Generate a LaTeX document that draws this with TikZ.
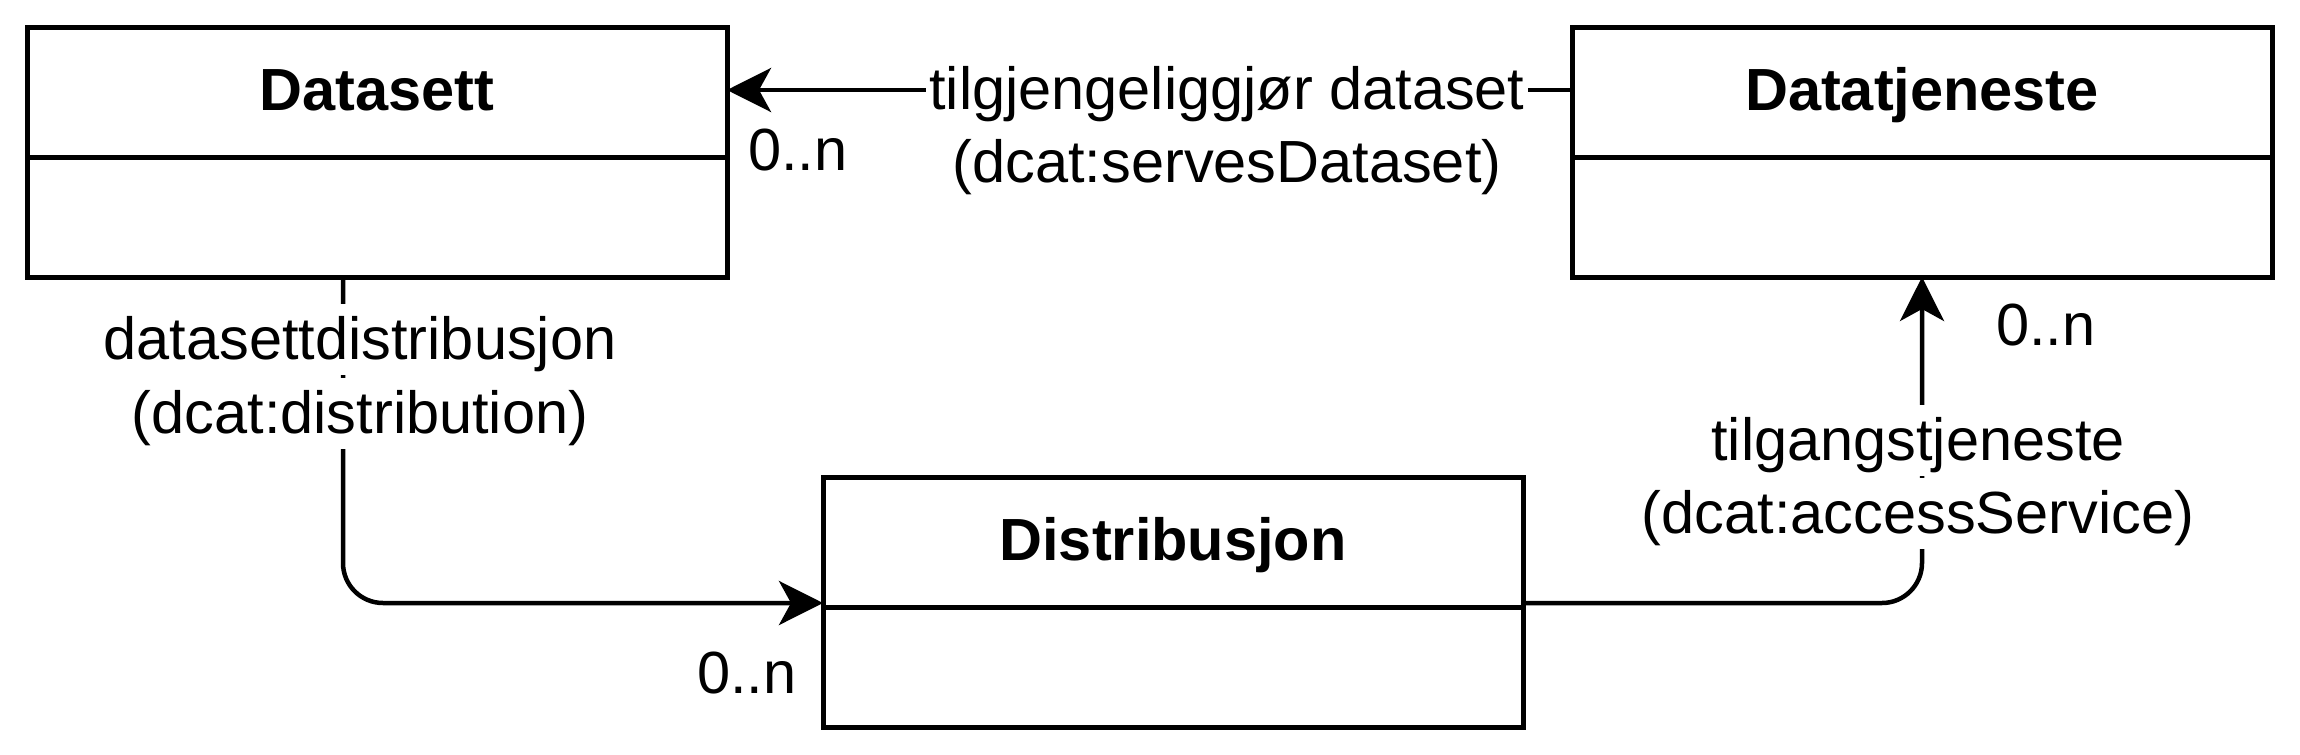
\documentclass[tikz,border=0pt]{standalone}
\usepackage{fontspec}
\setmainfont{Liberation Sans}
\usetikzlibrary{arrows.meta}
\begin{document}
\begin{tikzpicture}[x=1pt,y=-1pt,
  txt/.style={font=\fontsize{59.5pt}{71.4pt}\selectfont},
  head/.style={draw=black, line width=5pt, fill=white, minimum width=700pt, minimum height=130pt,
    inner sep=0pt, outer sep=0pt, text height=40pt, text depth=4pt,
    font=\fontsize{59.5pt}{71.4pt}\selectfont\bfseries},
  body/.style={draw=black, line width=5pt, fill=white, minimum width=700pt, minimum height=120pt,
    inner sep=0pt, outer sep=0pt},
  edge/.style={draw=black, line width=4.5pt, -{Stealth[length=44pt,width=44pt,inset=12pt]}},
  lbl/.style={txt, fill=white, inner xsep=3pt, inner ysep=0pt, text height=55pt, text depth=16pt, anchor=base},
  mult/.style={txt, inner sep=0pt, anchor=base west}]
\fill[white] (0,0) rectangle (2300,755);
\useasboundingbox (0,0) rectangle (2300,755);
% classes
\node[head] (dsh) at (377,92) {Datasett};
\node[body] (dsb) at (377,217) {};
\node[head] (dtjh) at (1922,92) {Datatjeneste};
\node[body] (dtjb) at (1922,217) {};
\node[head] (dih) at (1173,542) {Distribusjon};
\node[body] (dib) at (1173,667) {};
% connectors
\draw[edge] ([yshift=2pt]dtjh.west) -- ([yshift=2pt]dsh.east);
\draw[edge, rounded corners=40pt] ([xshift=-34pt]dsb.south) |- ([yshift=4pt]dih.south west);
\draw[edge, rounded corners=40pt] ([yshift=4pt]dih.south east) -| (dtjb.south);
% connector labels
\node[lbl] (l1a) at (1227,109) {tilgjengeliggjør dataset};
\node[lbl] (l1b) at (1227,182) {(dcat:servesDataset)};
\node[lbl] (l2a) at (360,359) {datasettdistribusjon};
\node[lbl] (l2b) at (360,433) {(dcat:distribution)};
\node[lbl] (l3a) at (1918,460) {tilgangstjeneste};
\node[lbl] (l3b) at (1918,533) {(dcat:accessService)};
% multiplicities
\node[mult] (m1) at (748,170) {0..n};
\node[mult] (m2) at (697,693) {0..n};
\node[mult] (m3) at (1996,345) {0..n};
\end{tikzpicture}
\end{document}
